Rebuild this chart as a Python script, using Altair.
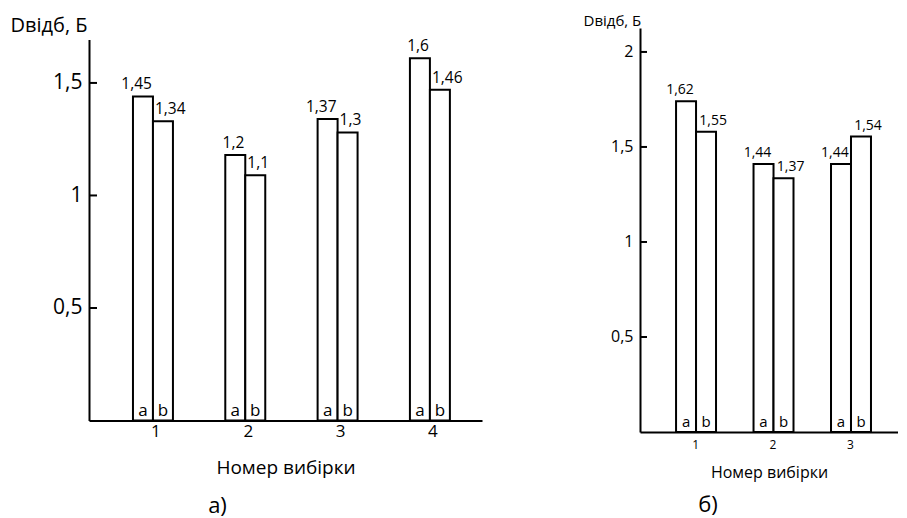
import altair as alt
import pandas as pd

FONT = "Open Sans"

# ---- panel a) ----
samples_l = ["1", "2", "3", "4"]
bars_a_l = [1.44, 1.18, 1.34, 1.61]
bars_b_l = [1.33, 1.09, 1.28, 1.47]
text_a_l = ["1,45", "1,2", "1,37", "1,6"]
text_b_l = ["1,34", "1,1", "1,3", "1,46"]
yticks_l = [0.5, 1.0, 1.5]

# ---- panel б) ----
samples_r = ["1", "2", "3"]
bars_a_r = [1.74, 1.41, 1.41]
bars_b_r = [1.58, 1.335, 1.555]
text_a_r = ["1,62", "1,44", "1,44"]
text_b_r = ["1,55", "1,37", "1,54"]
yticks_r = [0.5, 1.0, 1.5, 2.0]

subs = ["a", "b"]


def table(samples, va, vb, ta, tb):
    rows = []
    for s, a, b, la, lb in zip(samples, va, vb, ta, tb):
        rows.append({"sample": s, "sub": "a", "value": a, "label": la})
        rows.append({"sample": s, "sub": "b", "value": b, "label": lb})
    return pd.DataFrame(rows)


def panel(df, ticks, width, height, ymax, pi, po, al, s, caption, cap_dx):
    x = alt.X(
        "sample:N",
        sort=None,
        scale=alt.Scale(paddingInner=pi, paddingOuter=po, align=al),
        axis=alt.Axis(
            title="Номер вибірки",
            labelAngle=0,
            ticks=False,
            domainColor="black",
            domainWidth=2,
            labelFont=FONT,
            labelFontSize=s["xlab"],
            labelColor="black",
            labelPadding=s["xpad"],
            labelOffset=s["xoff"],
            titleFont=FONT,
            titleFontSize=s["xtitle"],
            titleFontWeight="normal",
            titleColor="black",
            titlePadding=s["tpad"],
        ),
    )
    xo = alt.XOffset("sub:N", sort=subs, scale=alt.Scale(paddingInner=0, paddingOuter=0))
    y = alt.Y(
        "value:Q",
        scale=alt.Scale(domain=[0, ymax], nice=False, zero=True),
        axis=alt.Axis(
            values=ticks,
            ticks=False,
            grid=False,
            domainColor="black",
            domainWidth=2,
            labelFont=FONT,
            labelFontSize=s["ylab"],
            labelColor="black",
            labelPadding=7,
            labelBaseline="middle",
            labelExpr="replace(format(datum.value, '~g'), '.', ',')",
            title="Dвідб, Б",
            titleFont=FONT,
            titleFontSize=s["ytitle"],
            titleFontWeight="normal",
            titleColor="black",
            titleAngle=0,
            titleAlign="left",
            titleBaseline="middle",
            titleX=s["ytx"],
            titleY=s["yty"],
        ),
    )
    base = alt.Chart(df)
    bars = base.mark_bar(fill="white", stroke="black", strokeWidth=2).encode(
        x=x, xOffset=xo, y=y
    )
    lab_a = base.transform_filter("datum.sub == 'a'").mark_text(
        align="right", baseline="alphabetic", dx=s["bw"] / 2 - 1, dy=-7,
        font=FONT, fontSize=s["val"], color="black",
    ).encode(x=x, xOffset=xo, y=y, text="label:N")
    lab_b = base.transform_filter("datum.sub == 'b'").mark_text(
        align="left", baseline="alphabetic", dx=-s["bw"] / 2 + 2, dy=-7,
        font=FONT, fontSize=s["val"], color="black",
    ).encode(x=x, xOffset=xo, y=y, text="label:N")
    sub_lab = base.mark_text(
        align="center", baseline="alphabetic", dy=-5,
        font=FONT, fontSize=s["sub"], color="black",
    ).encode(x=x, xOffset=xo, y=alt.Y("zero:Q"), text="sub:N").transform_calculate(zero="0")
    tick_df = pd.DataFrame({"value": ticks})
    tick_marks = alt.Chart(tick_df).mark_rule(color="black", strokeWidth=2).encode(
        y=y, x=alt.value(0), x2=alt.value(s["tick"])
    )
    return alt.layer(bars, lab_a, lab_b, tick_marks, sub_lab).properties(
        width=width,
        height=height,
        title=alt.TitleParams(
            caption, orient="bottom", anchor="middle", dx=cap_dx, offset=s["capoff"],
            font=FONT, fontSize=22, fontWeight="normal", color="black",
        ),
    )


left = panel(
    table(samples_l, bars_a_l, bars_b_l, text_a_l, text_b_l), yticks_l,
    393, 381, 1.693, 0.567, 0.412, 0.578,
    dict(xlab=17, xpad=3, xoff=3, xtitle=19, tpad=19, ylab=21, ytitle=20,
         ytx=-79, yty=-14, bw=20, val=15.5, sub=17, tick=8, capoff=18),
    "а)", -68,
)
right = panel(
    table(samples_r, bars_a_r, bars_b_r, text_a_r, text_b_r), yticks_r,
    258, 404, 2.126, 0.548, 0.439, 0.53,
    dict(xlab=12, xpad=7, xoff=2, xtitle=16, tpad=14, ylab=16, ytitle=15,
         ytx=-57, yty=-8, bw=17.5, val=14, sub=15, tick=7, capoff=15),
    "б)", -61,
)

chart = alt.hconcat(left, right, spacing=158, center=True, bounds="flush").properties(
    padding={"left": 2, "top": 5, "right": 0, "bottom": 0},
    background="white",
).configure_view(stroke=None)

chart.save("out.html", embed_options={"renderer": "svg", "actions": False})
